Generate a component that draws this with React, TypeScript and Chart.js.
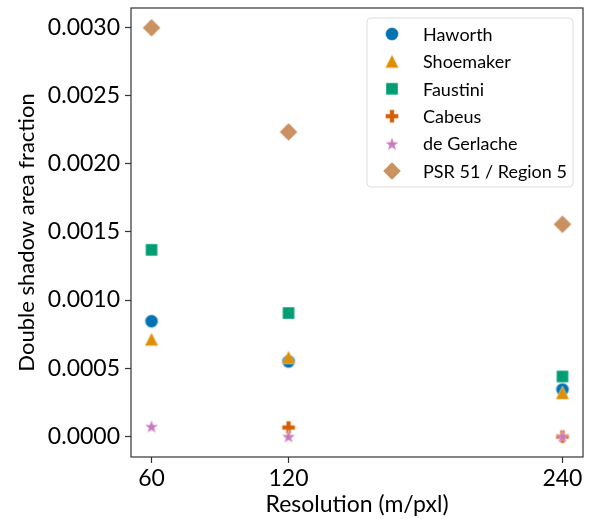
import React, { useEffect, useRef } from "react";
import { Chart, registerables } from "chart.js";

Chart.register(...registerables);

const resolutions = [60, 120, 240];
const seriesNames = ["Haworth", "Shoemaker", "Faustini", "Cabeus", "de Gerlache", "PSR 51 / Region 5"];
const haworth = [0.000845, 0.00055, 0.000345];
const shoemaker = [0.000712, 0.00058, 0.00032];
const faustini = [0.001368, 0.000905, 0.00044];
const cabeus = [null, 0.000066, 0.0];
const deGerlache = [0.000075, 0.000002, 0.000002];
const psr51 = [0.002995, 0.002232, 0.001555];
const yTickValues = [0, 0.0005, 0.001, 0.0015, 0.002, 0.0025, 0.003];
const xTickValues = [60, 120, 240];

const colors = ["#0173b2", "#de8f05", "#029e73", "#d55e00", "#cc78bc", "#ca9161"];
const shapes = ["circle", "triangle", "square", "plus", "star", "diamond"];

const FONT = "Lato, 'DejaVu Sans', sans-serif";

function makeMarker(shape: string, color: string): HTMLCanvasElement {
  const size = 22;
  const c = document.createElement("canvas");
  c.width = size;
  c.height = size;
  const ctx = c.getContext("2d")!;
  const cx = size / 2;
  const cy = size / 2;
  ctx.fillStyle = color;
  ctx.beginPath();
  if (shape === "circle") {
    ctx.arc(cx, cy, 6.5, 0, Math.PI * 2);
  } else if (shape === "triangle") {
    const r = 6.8;
    ctx.moveTo(cx, cy - r);
    ctx.lineTo(cx - r, cy + r * 0.95);
    ctx.lineTo(cx + r, cy + r * 0.95);
    ctx.closePath();
  } else if (shape === "square") {
    const h = 6;
    ctx.rect(cx - h, cy - h, 2 * h, 2 * h);
  } else if (shape === "plus") {
    const a = 6.5;
    const t = 2.3;
    ctx.moveTo(cx - t, cy - a);
    ctx.lineTo(cx + t, cy - a);
    ctx.lineTo(cx + t, cy - t);
    ctx.lineTo(cx + a, cy - t);
    ctx.lineTo(cx + a, cy + t);
    ctx.lineTo(cx + t, cy + t);
    ctx.lineTo(cx + t, cy + a);
    ctx.lineTo(cx - t, cy + a);
    ctx.lineTo(cx - t, cy + t);
    ctx.lineTo(cx - a, cy + t);
    ctx.lineTo(cx - a, cy - t);
    ctx.lineTo(cx - t, cy - t);
    ctx.closePath();
  } else if (shape === "star") {
    const ro = 7.2;
    const ri = ro * 0.4;
    for (let i = 0; i < 10; i++) {
      const ang = -Math.PI / 2 + (i * Math.PI) / 5;
      const r = i % 2 === 0 ? ro : ri;
      const x = cx + r * Math.cos(ang);
      const y = cy + r * Math.sin(ang) + 0.8;
      if (i === 0) ctx.moveTo(x, y);
      else ctx.lineTo(x, y);
    }
    ctx.closePath();
  } else if (shape === "diamond") {
    const r = 9;
    ctx.moveTo(cx, cy - r);
    ctx.lineTo(cx + r, cy);
    ctx.lineTo(cx, cy + r);
    ctx.lineTo(cx - r, cy);
    ctx.closePath();
  }
  ctx.fill();
  ctx.lineWidth = 0.6;
  ctx.strokeStyle = "rgba(255,255,255,0.7)";
  ctx.stroke();
  return c;
}

export default function App() {
  const ref = useRef<HTMLCanvasElement | null>(null);
  useEffect(() => {
    if (!ref.current) return;
    const allSeries = [haworth, shoemaker, faustini, cabeus, deGerlache, psr51];
    const markers = shapes.map((s, i) => makeMarker(s, colors[i]));
    const datasets = allSeries.map((vals, i) => ({
      label: seriesNames[i],
      data: resolutions
        .map((x, j) => ({ x, y: vals[j] }))
        .filter((p) => p.y !== null) as { x: number; y: number }[],
      pointStyle: markers[i] as any,
      backgroundColor: colors[i],
      borderColor: colors[i],
      showLine: false,
      order: 10 - i,
    }));

    const frameAndLegend = {
      id: "frameAndLegend",
      afterDatasetsDraw(chart: any) {
        const { ctx, chartArea } = chart;
        const { left, right, top, bottom } = chartArea;
        ctx.save();
        ctx.strokeStyle = "#333333";
        ctx.lineWidth = 1.2;
        ctx.strokeRect(left, top, right - left, bottom - top);

        // legend
        const lx = 367, ly = 18, lw = 206, lh = 169;
        const r = 4;
        ctx.beginPath();
        ctx.moveTo(lx + r, ly);
        ctx.lineTo(lx + lw - r, ly);
        ctx.quadraticCurveTo(lx + lw, ly, lx + lw, ly + r);
        ctx.lineTo(lx + lw, ly + lh - r);
        ctx.quadraticCurveTo(lx + lw, ly + lh, lx + lw - r, ly + lh);
        ctx.lineTo(lx + r, ly + lh);
        ctx.quadraticCurveTo(lx, ly + lh, lx, ly + lh - r);
        ctx.lineTo(lx, ly + r);
        ctx.quadraticCurveTo(lx, ly, lx + r, ly);
        ctx.closePath();
        ctx.fillStyle = "rgba(255,255,255,0.8)";
        ctx.fill();
        ctx.strokeStyle = "#dddddd";
        ctx.lineWidth = 1;
        ctx.stroke();

        ctx.font = `18px ${FONT}`;
        ctx.fillStyle = "#000000";
        ctx.textBaseline = "middle";
        ctx.textAlign = "left";
        seriesNames.forEach((name, i) => {
          const y = 34 + i * 27.4;
          const m = markers[i];
          ctx.drawImage(m, 392 - m.width / 2, y - m.height / 2);
          ctx.fillText(name, 423, y + 1);
        });
        ctx.restore();
      },
    };

    const chart = new Chart(ref.current, {
      type: "scatter",
      data: { datasets },
      options: {
        animation: false,
        responsive: false,
        devicePixelRatio: 1,
        layout: { padding: { top: 8, right: 9, left: 0, bottom: 0 } },
        plugins: { legend: { display: false }, tooltip: { enabled: false } },
        elements: { point: { radius: 7, hoverRadius: 7 } },
        scales: {
          x: {
            type: "linear",
            min: 51,
            max: 249,
            afterBuildTicks: (axis: any) => {
              axis.ticks = xTickValues.map((v) => ({ value: v }));
            },
            afterFit: (axis: any) => {
              axis.height = 62;
              axis.paddingLeft = 0;
              axis.paddingRight = 0;
            },
            grid: {
              drawOnChartArea: false,
              drawTicks: true,
              tickLength: 6,
              color: "#333333",
              tickWidth: 1.2,
            },
            border: { display: false },
            ticks: {
              color: "#000000",
              font: { family: FONT, size: 23 },
              padding: 2,
              callback: (v: any) => String(v),
            },
            title: {
              display: true,
              text: "Resolution (m/pxl)",
              color: "#000000",
              font: { family: FONT, size: 23 },
              padding: { top: 0, bottom: 1 },
            },
          },
          y: {
            type: "linear",
            min: -0.00015,
            max: 0.00314,
            afterBuildTicks: (axis: any) => {
              axis.ticks = yTickValues.map((v) => ({ value: v }));
            },
            afterFit: (axis: any) => {
              axis.width = 131;
              axis.paddingTop = 0;
              axis.paddingBottom = 0;
            },
            grid: {
              drawOnChartArea: false,
              drawTicks: true,
              tickLength: 6,
              color: "#333333",
              tickWidth: 1.2,
            },
            border: { display: false },
            ticks: {
              color: "#000000",
              font: { family: FONT, size: 23 },
              padding: 5,
              callback: (v: any) => Number(v).toFixed(4),
            },
            title: {
              display: true,
              text: "Double shadow area fraction",
              color: "#000000",
              font: { family: FONT, size: 22 },
              padding: { top: 14, bottom: 4 },
            },
          },
        },
      },
      plugins: [frameAndLegend],
    });
    return () => chart.destroy();
  }, []);
  return (
    <div style={{ position: "fixed", left: 0, top: 0, width: 592, height: 519, background: "#fff" }}>
      <canvas ref={ref} width={592} height={519} style={{ width: 592, height: 519, display: "block" }} />
    </div>
  );
}
